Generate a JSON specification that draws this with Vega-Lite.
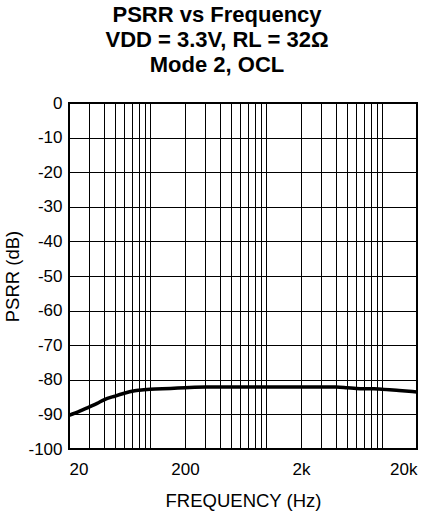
{
  "$schema": "https://vega.github.io/schema/vega-lite/v6.json",
  "autosize": "none",
  "width": 348,
  "height": 346,
  "padding": {"left": 69, "top": 103, "right": 17, "bottom": 62},
  "background": "white",
  "title": {
    "text": ["PSRR vs Frequency", "VDD = 3.3V, RL = 32Ω", "Mode 2, OCL"],
    "font": "Liberation Sans",
    "fontSize": 22,
    "fontWeight": "bold",
    "lineHeight": 25,
    "color": "black",
    "anchor": "middle",
    "frame": "group",
    "dx": -26,
    "offset": 17
  },
  "config": {
    "view": {"stroke": "black", "strokeWidth": 2},
    "axis": {
      "labelFont": "Liberation Sans",
      "titleFont": "Liberation Sans",
      "labelFontSize": 17,
      "titleFontSize": 18.5,
      "titleFontWeight": "normal",
      "labelColor": "black",
      "titleColor": "black",
      "gridColor": "black",
      "gridOpacity": 1,
      "gridWidth": 1,
      "ticks": false,
      "domain": false
    }
  },
  "data": {
    "values": [
      {"f": 20, "psrr": -90.3},
      {"f": 25, "psrr": -89.0},
      {"f": 30, "psrr": -87.8},
      {"f": 35, "psrr": -86.8},
      {"f": 40, "psrr": -85.8},
      {"f": 50, "psrr": -84.7},
      {"f": 60, "psrr": -83.9},
      {"f": 70, "psrr": -83.3},
      {"f": 80, "psrr": -83.0},
      {"f": 100, "psrr": -82.7},
      {"f": 150, "psrr": -82.5},
      {"f": 200, "psrr": -82.3},
      {"f": 300, "psrr": -82.1},
      {"f": 500, "psrr": -82.1},
      {"f": 1000, "psrr": -82.1},
      {"f": 2000, "psrr": -82.1},
      {"f": 4000, "psrr": -82.1},
      {"f": 5000, "psrr": -82.3},
      {"f": 6000, "psrr": -82.5},
      {"f": 8000, "psrr": -82.6},
      {"f": 10000, "psrr": -82.7},
      {"f": 14000, "psrr": -83.1},
      {"f": 20000, "psrr": -83.5}
    ]
  },
  "mark": {"type": "line", "color": "black", "strokeWidth": 3.5, "interpolate": "monotone"},
  "encoding": {
    "x": {
      "field": "f",
      "type": "quantitative",
      "scale": {"type": "log", "domain": [20, 20000], "nice": false},
      "axis": {
        "title": "FREQUENCY (Hz)",
        "values": [20, 30, 40, 50, 60, 70, 80, 90, 100, 200, 300, 400, 500, 600, 700, 800, 900, 1000, 2000, 3000, 4000, 5000, 6000, 7000, 8000, 9000, 10000, 20000],
        "labelExpr": "datum.value == 20 ? '20' : datum.value == 200 ? '200' : datum.value == 2000 ? '2k' : datum.value == 20000 ? '20k' : ''",
        "labelOverlap": false,
        "labelPadding": 12,
        "titlePadding": 14
      }
    },
    "y": {
      "field": "psrr",
      "type": "quantitative",
      "scale": {"domain": [-100, 0], "nice": false},
      "axis": {
        "title": "PSRR (dB)",
        "values": [-100, -90, -80, -70, -60, -50, -40, -30, -20, -10, 0],
        "labelExpr": "'' + datum.value",
        "labelPadding": 7,
        "titleX": -47
      }
    }
  }
}
